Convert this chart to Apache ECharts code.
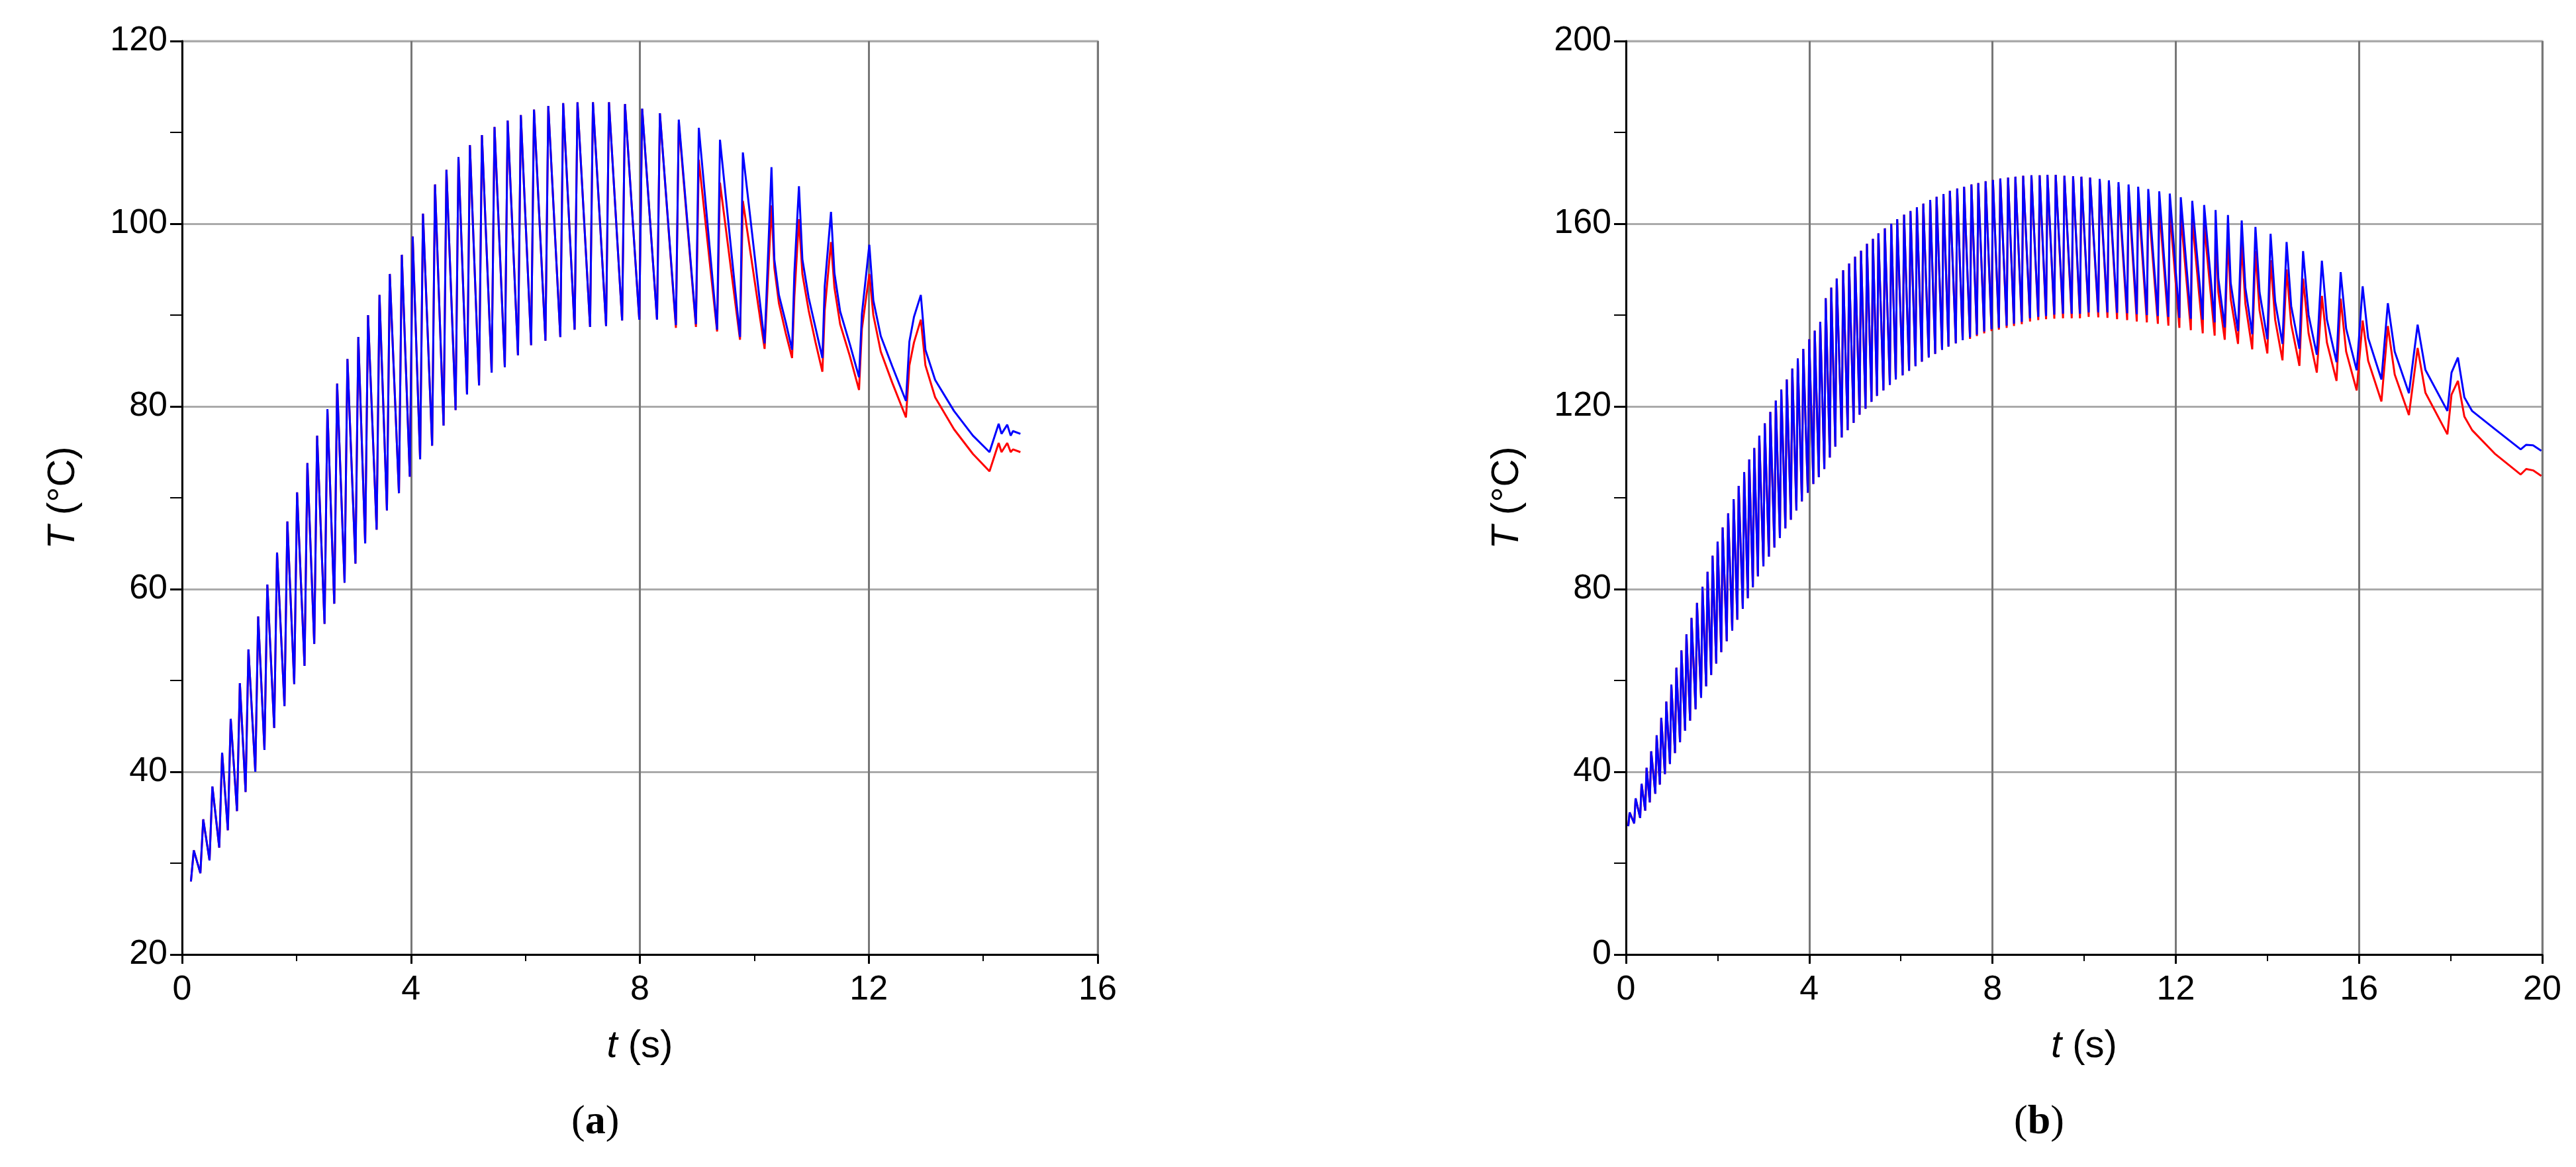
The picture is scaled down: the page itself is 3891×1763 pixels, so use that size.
<!DOCTYPE html>
<html>
<head>
<meta charset="utf-8">
<script src="https://cdn.jsdelivr.net/npm/echarts@6/dist/echarts.min.js"></script>
<style>html,body{margin:0;padding:0;background:#fff}#main{width:3891px;height:1763px}</style>
</head>
<body>
<div id="main"></div>
<script>
// panel (a): trough before each pulse, peak of each pulse
var aTroughT = [0.155,0.32,0.48,0.65,0.80,0.96,1.11,1.28,1.44,1.61,1.79,1.96,2.14,2.31,2.49,2.66,2.84,3.03,
  3.20,3.40,3.58,3.79,3.98,4.16,4.37,4.57,4.78,4.98,5.19,5.41,5.64,5.87,6.10,6.35,6.61,6.86,7.13,7.41,7.69,7.99,8.30,8.63,8.98,9.35,9.75];
var aTroughBlue = [28.0,28.9,30.3,31.7,33.6,35.7,37.8,40.0,42.4,44.8,47.2,49.6,51.6,54.0,56.2,58.4,60.7,62.8,
  65.0,66.5,68.6,70.5,72.3,74.2,75.7,77.9,79.6,81.3,82.3,83.7,84.3,85.6,86.7,87.2,87.6,88.4,88.7,88.8,89.4,89.5,89.5,88.9,89.0,88.4,87.6];
var aPeakBlue = [31.4,34.8,38.4,42.1,45.8,49.7,53.4,57.0,60.5,64.0,67.4,70.6,73.8,76.8,79.7,82.5,85.2,87.6,
  90.0,92.2,94.5,96.6,98.6,101.1,104.3,105.9,107.3,108.6,109.7,110.6,111.3,111.9,112.5,112.9,113.2,113.3,113.3,113.3,113.1,112.6,112.1,111.4,110.5,109.2,107.8];
var aRedTroughTail = [88.6,88.7,88.2,87.3];
var aRedPeakTail = [111.0,107.0,104.5,102.5];
var aLateT = [10.18,10.30,10.35,10.43,10.55,10.66,10.70,10.78,10.84,10.95,11.07,11.19,11.23,11.34,11.40,11.50,11.67,11.83,
  11.88,12.01,12.08,12.21,12.41,12.65,12.71,12.79,12.91,12.99,13.16,13.49,13.82,14.11,14.27,14.32,14.42,14.48,14.52,14.65];
var aLateBlue = [86.9,106.2,96.1,92.2,89.2,86.2,94.6,104.1,96.1,91.9,88.6,85.3,93.1,101.3,94.6,90.4,86.8,83.2,
  90.1,97.7,91.6,87.7,84.4,80.6,87.1,89.8,92.2,86.2,82.9,79.5,76.8,75.0,78.1,77.0,78.0,76.8,77.3,77.0];
var aLateRed = [86.3,102,95.2,91.3,88,85.3,92,100.5,94.5,90.5,87,83.8,90.5,98,93,89,85.5,81.8,
  88.5,94.5,90,86,82.6,78.8,84.5,87,89.5,84.5,81,77.5,74.8,72.9,76,75,76,75,75.3,75.0];

// panel (b)
var bTroughT = [0.05,0.18,0.31,0.42,0.52,0.64,0.74,0.85,0.96,1.07,1.18,1.29,1.40,1.52,1.64,1.75,1.86,1.97,2.08,2.20,
  2.32,2.43,2.55,2.66,2.77,2.88,3.00,3.12,3.24,3.36,3.48,3.60,3.72,3.84,3.97,4.09,4.21,4.33,4.45,4.57,
  4.71,4.84,4.97,5.10,5.23,5.36,5.48,5.62,5.76,5.89,6.04,6.18,6.32,6.46,6.61,6.75,6.90,7.04,7.20,7.35,7.51,7.66,7.82,7.98,8.14,8.31,8.47,8.64,
  8.82,9.00,9.17,9.35,9.54,9.73,9.91,10.10,10.31,10.51,10.72,10.94,11.15,11.37,11.61,11.84,12.08,12.33,12.59];
var bTroughBlue = [28.1,28.7,29.9,31.5,33.3,35.2,37.2,39.5,41.7,44.1,46.5,49.0,51.2,53.7,56.2,58.7,61.2,63.7,66.2,68.6,
  70.9,73.3,75.7,78.0,80.4,82.8,85.0,87.1,89.1,91.2,93.3,95.2,97.2,99.2,101.1,103.0,104.5,106.3,108.8,111.2,
  113.2,114.8,116.4,118.2,119.5,121.0,122.3,123.5,124.7,125.9,126.8,127.8,128.8,129.8,130.7,131.5,132.4,133.1,133.8,134.5,135.1,135.7,136.4,136.9,137.2,137.7,138.1,138.5,
  139.3,139.6,139.8,140.1,140.3,140.3,140.3,140.6,140.6,140.6,140.5,140.4,140.2,140.0,139.8,139.6,139.4,139.2,139.0];
var bPeakBlue = [31.1,34.2,37.4,40.9,44.5,48.0,51.8,55.4,59.1,62.8,66.6,70.1,73.7,77.0,80.5,83.8,87.3,90.4,93.5,96.6,
  99.7,102.6,105.6,108.4,110.9,113.6,116.3,118.8,121.3,123.7,125.9,128.3,130.5,132.6,134.7,136.6,138.5,143.7,146.0,148.0,
  149.8,151.3,152.8,154.1,155.6,156.7,157.9,159.0,160.0,161.0,162.0,162.8,163.6,164.4,165.2,165.9,166.5,167.2,167.7,168.1,168.6,168.9,169.3,169.6,169.9,170.1,170.3,170.5,
  170.6,170.6,170.7,170.7,170.5,170.4,170.3,170.1,169.8,169.5,169.1,168.6,168.1,167.6,167.1,166.6,165.8,165.0,164.1];
var bRedTroughTail = [134.8,135.4,136.0,136.5,136.8,137.2,137.6,138.0,
  138.6,138.9,139.1,139.2,139.3,139.3,139.3,139.6,139.5,139.4,139.1,138.9,138.6,138.4,138.1,137.7,137.2,136.7,136.0];
var bRedPeakTail = [170.6,170.6,170.7,170.7,170.5,170.4,170.3,170.1,169.5,169,168,167,166,165,164,163,162,161,160];
var bLateT = [12.85,12.87,12.93,13.07,13.14,13.2,13.36,13.44,13.52,13.67,13.74,13.83,14.0,14.07,14.17,14.33,14.42,14.52,
  14.70,14.78,14.9,15.08,15.19,15.3,15.51,15.60,15.72,15.95,16.08,16.2,16.49,16.63,16.78,17.09,17.28,17.45,
  17.93,18.02,18.16,18.3,18.47,18.96,19.53,19.65,19.80,19.98];
var bLateBlue = [138.4,163.0,148,137.3,161.9,147,136.5,160.7,146,135.8,159.3,145,134.7,157.8,143,133.7,156.0,142,
  132.6,154.0,140,131.3,151.9,139,129.7,149.4,137,127.9,146.3,135,125.9,142.6,132,122.9,137.9,128,
  119.0,127.4,130.7,122,119.0,115.1,110.6,111.6,111.5,110.3];
var bLateRed = [135.5,159,145,134.6,157,143.5,133.7,155.5,142.5,132.5,154,141,131.6,152,139,130.1,150,138,
  128.9,148,136,127.4,144.2,134,125.6,143.6,132,123.5,138.8,130,121.1,137.6,127,118.1,132.8,123,
  113.9,122.6,125.6,117.8,114.8,109.7,105.1,106.3,106.0,104.8];

function withTail(arr, tail) {
  return arr.slice(0, arr.length - tail.length).concat(tail);
}
function buildLine(troughT, troughs, peaks, dt, lateT, late) {
  var pts = [];
  for (var i = 0; i < troughT.length; i++) {
    pts.push([troughT[i], troughs[i]]);
    pts.push([troughT[i] + dt, peaks[i]]);
  }
  for (var j = 0; j < lateT.length; j++) pts.push([lateT[j], late[j]]);
  return pts;
}

var aBlue = buildLine(aTroughT, aTroughBlue, aPeakBlue, 0.05, aLateT, aLateBlue);
var aRed = buildLine(aTroughT, withTail(aTroughBlue, aRedTroughTail), withTail(aPeakBlue, aRedPeakTail), 0.05, aLateT, aLateRed);
var bBlue = buildLine(bTroughT, bTroughBlue, bPeakBlue, 0.03, bLateT, bLateBlue);
var bRed = buildLine(bTroughT, withTail(bTroughBlue, bRedTroughTail), withTail(bPeakBlue, bRedPeakTail), 0.03, bLateT, bLateRed);

var font = 'Liberation Sans, Arial, sans-serif';
function xAxis(idx, max) {
  return {
    type: 'value', gridIndex: idx, min: 0, max: max, interval: 4,
    name: '{i|t} (s)', nameLocation: 'middle', nameGap: 110,
    nameTextStyle: {fontFamily: font, fontSize: 58, color: '#000', rich: {i: {fontStyle: 'italic', fontFamily: font, fontSize: 58}}},
    axisLine: {show: true, onZero: false, lineStyle: {color: '#000', width: 3}},
    axisTick: {show: true, length: 14, lineStyle: {color: '#000', width: 3}},
    minorTick: {show: true, splitNumber: 2, length: 10, lineStyle: {color: '#000', width: 2}},
    axisLabel: {fontFamily: font, fontSize: 52, color: '#000', margin: 28},
    splitLine: {show: true, lineStyle: {color: '#777', width: 3}}
  };
}
function yAxis(idx, min, max, interval) {
  return {
    type: 'value', gridIndex: idx, min: min, max: max, interval: interval,
    name: '{i|T} (°C)', nameLocation: 'middle', nameGap: 150, nameRotate: 90,
    nameTextStyle: {fontFamily: font, fontSize: 58, color: '#000', rich: {i: {fontStyle: 'italic', fontFamily: font, fontSize: 58}}},
    axisLine: {show: true, lineStyle: {color: '#000', width: 3}},
    axisTick: {show: true, length: 18, lineStyle: {color: '#000', width: 3}},
    minorTick: {show: true, splitNumber: 2, length: 18, lineStyle: {color: '#000', width: 2}},
    axisLabel: {fontFamily: font, fontSize: 52, color: '#000', margin: 22},
    splitLine: {show: true, lineStyle: {color: '#aaa', width: 3}}
  };
}
function line(name, data, color, xi) {
  return {name: name, type: 'line', xAxisIndex: xi, yAxisIndex: xi, data: data, showSymbol: false,
    lineStyle: {color: color, width: 3}, animation: false};
}

var chart = echarts.init(document.getElementById('main'));
chart.setOption({
  backgroundColor: '#fff',
  animation: false,
  grid: [
    {left: 275, right: 2233, top: 62, bottom: 321, show: true, borderColor: '#bbb', borderWidth: 3},
    {left: 2456, right: 51, top: 62, bottom: 321, show: true, borderColor: '#bbb', borderWidth: 3}
  ],
  xAxis: [xAxis(0, 16), xAxis(1, 20)],
  yAxis: [yAxis(0, 20, 120, 20), yAxis(1, 0, 200, 40)],
  series: [
    line('a-red', aRed, '#ff0000', 0),
    line('a-blue', aBlue, '#0000ff', 0),
    line('b-red', bRed, '#ff0000', 1),
    line('b-blue', bBlue, '#0000ff', 1)
  ],
  graphic: [
    {type: 'text', left: 863, top: 1665, style: {text: '({b|a})', fontFamily: 'Liberation Serif, serif', fontSize: 62, fill: '#000',
      rich: {b: {fontWeight: 'bold', fontFamily: 'Liberation Serif, serif', fontSize: 62}}}},
    {type: 'text', left: 3042, top: 1665, style: {text: '({b|b})', fontFamily: 'Liberation Serif, serif', fontSize: 62, fill: '#000',
      rich: {b: {fontWeight: 'bold', fontFamily: 'Liberation Serif, serif', fontSize: 62}}}}
  ]
});
</script>
</body>
</html>
